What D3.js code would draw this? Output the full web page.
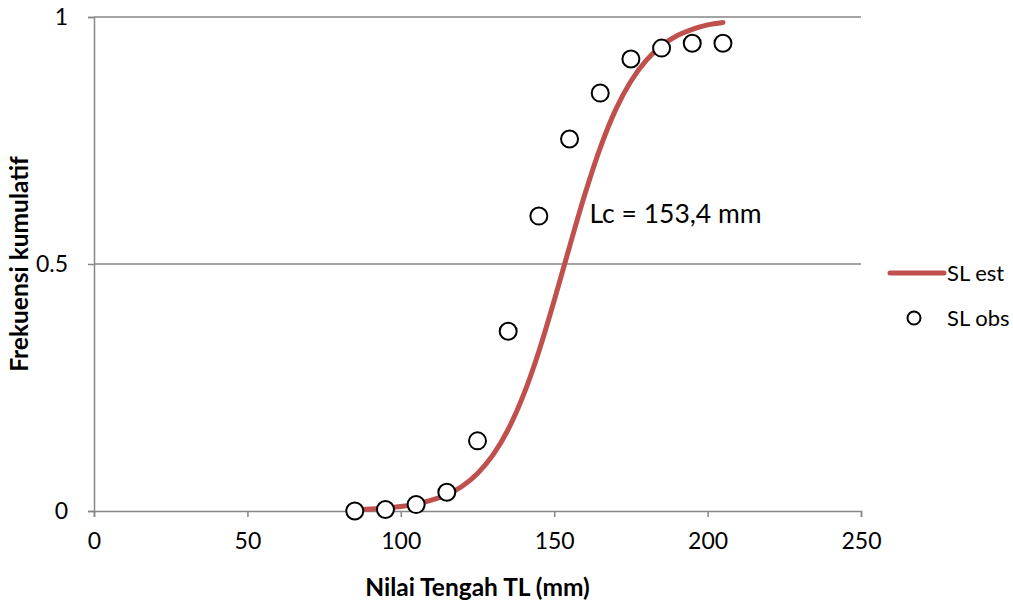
<!DOCTYPE html>
<html>
<head>
<meta charset="utf-8">
<script src="https://cdn.jsdelivr.net/npm/d3@7"></script>
<style>
  body { margin: 0; background: #fff; }
  svg text { font-family: Lato, "Open Sans", sans-serif; fill: #000; }
</style>
</head>
<body>
<svg id="chart" width="1013" height="603"></svg>
<script>
// observed points (SL obs)
const obsX = [85, 95, 105, 115, 125, 135, 145, 155, 165, 175, 185, 195, 205];
const obsY = [0.000, 0.003, 0.013, 0.038, 0.142, 0.364, 0.597, 0.753, 0.846, 0.915, 0.937, 0.947, 0.947];

// estimated curve (SL est)
const estX = [85, 90, 95, 100, 105, 110, 115, 120, 125, 130, 135, 140, 145, 150, 155, 160, 165, 170, 175, 180, 185, 190, 195, 200, 205];
const estY = [0.002, 0.004, 0.006, 0.009, 0.014, 0.022, 0.033, 0.050, 0.076, 0.113, 0.165, 0.235, 0.323, 0.426, 0.535, 0.641, 0.735, 0.812, 0.870, 0.912, 0.942, 0.962, 0.975, 0.984, 0.989];

const xTicks = [0, 50, 100, 150, 200, 250];
const yTicks = [0, 0.5, 1];

const margin = { top: 17, right: 152, bottom: 92, left: 94 };
const width = 1013 - margin.left - margin.right;
const height = 603 - margin.top - margin.bottom;

const svg = d3.select("#chart");
const g = svg.append("g").attr("transform", `translate(${margin.left},${margin.top})`);

const x = d3.scaleLinear().domain([0, 250]).range([0, width]);
const y = d3.scaleLinear().domain([0, 1]).range([height, 0]);

const axisColor = "#868686";

// gridlines
g.selectAll(".grid")
  .data(yTicks.filter(d => d > 0))
  .enter()
  .append("line")
  .attr("x1", 0).attr("x2", width)
  .attr("y1", d => y(d)).attr("y2", d => y(d))
  .attr("stroke", axisColor).attr("stroke-width", 1.5);

// y axis
const yAxis = g.append("g")
  .call(d3.axisLeft(y).tickValues(yTicks).tickFormat(d => d === 0.5 ? "0.5" : d3.format("d")(d)).tickSize(6).tickPadding(20));
yAxis.select(".domain").attr("stroke", axisColor).attr("stroke-width", 1.5);
yAxis.selectAll(".tick line").attr("stroke", axisColor).attr("stroke-width", 1.5);
yAxis.selectAll("text").style("font-size", "23px").style("font-family", "Lato, sans-serif").attr("fill", "#000");

// x axis
const xAxis = g.append("g")
  .attr("transform", `translate(0,${height})`)
  .call(d3.axisBottom(x).tickValues(xTicks).tickSize(6).tickPadding(16));
xAxis.select(".domain").attr("stroke", axisColor).attr("stroke-width", 1.5);
xAxis.selectAll(".tick line").attr("stroke", axisColor).attr("stroke-width", 1.5);
xAxis.selectAll("text").style("font-size", "23px").style("font-family", "Lato, sans-serif").attr("fill", "#000");

// estimated curve
const line = d3.line()
  .x((d, i) => x(estX[i]))
  .y(d => y(d))
  .curve(d3.curveMonotoneX);

g.append("path")
  .datum(estY)
  .attr("d", line)
  .attr("fill", "none")
  .attr("stroke", "#C0504D")
  .attr("stroke-width", 5)
  .attr("stroke-linecap", "round");

// observed points
g.selectAll(".obs")
  .data(obsY)
  .enter()
  .append("circle")
  .attr("class", "obs")
  .attr("cx", (d, i) => x(obsX[i]))
  .attr("cy", d => y(d))
  .attr("r", 8.5)
  .attr("fill", "#fff")
  .attr("stroke", "#000")
  .attr("stroke-width", 2);

// annotation
g.append("text")
  .attr("x", x(161.5))
  .attr("y", y(0.601))
  .attr("dy", "0.35em")
  .style("font-size", "26.5px")
  .text("Lc = 153,4 mm");

// axis titles
svg.append("text")
  .attr("x", margin.left + width / 2)
  .attr("y", 596)
  .attr("text-anchor", "middle")
  .style("font-size", "24.5px")
  .style("font-weight", "bold")
  .text("Nilai Tengah TL (mm)");

svg.append("text")
  .attr("transform", `translate(28,${margin.top + height / 2}) rotate(-90)`)
  .attr("text-anchor", "middle")
  .style("font-size", "24.5px")
  .style("font-weight", "bold")
  .text("Frekuensi kumulatif");

// legend
const legend = svg.append("g").attr("transform", "translate(890,273)");
legend.append("line")
  .attr("x1", 0).attr("x2", 54)
  .attr("stroke", "#C0504D").attr("stroke-width", 5).attr("stroke-linecap", "round");
legend.append("text").attr("x", 57).attr("dy", "0.35em").style("font-size", "22px").text("SL est");
legend.append("circle")
  .attr("cx", 24).attr("cy", 45).attr("r", 6.5)
  .attr("fill", "#fff").attr("stroke", "#000").attr("stroke-width", 2);
legend.append("text").attr("x", 57).attr("y", 45).attr("dy", "0.35em").style("font-size", "22px").text("SL obs");
</script>
</body>
</html>
